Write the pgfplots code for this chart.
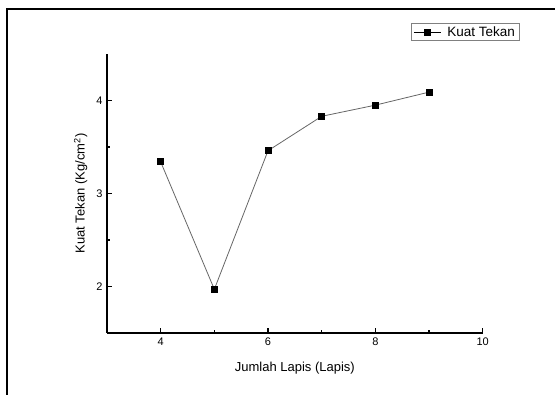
\documentclass[border=0pt]{standalone}
\usepackage{fontspec}
\setmainfont{Liberation Sans}
\usepackage{pgfplots}
\pgfplotsset{compat=1.18}
\begin{document}
\begin{tikzpicture}[x=1pt,y=1pt]
\useasboundingbox (0,0) rectangle (555,395);
\draw[line width=2.5pt] (7,0) -- (7,386) -- (555,386);
\begin{axis}[
  at={(107pt,62pt)}, anchor=south west,
  scale only axis, width=375.7pt, height=279pt,
  xmin=3, xmax=10, ymin=1.5, ymax=4.5,
  axis x line*=bottom, axis y line*=left,
  axis line style={line width=1.2pt, -},
  xtick={4,6,8,10}, minor xtick={5,7,9},
  ytick={2,3,4}, minor ytick={2.5,3.5},
  tick align=inside,
  major tick length=5pt, minor tick length=3pt,
  every tick/.style={black, line width=1.2pt},
  tick label style={font=\fontsize{11}{13}\selectfont},
  /pgf/number format/assume math mode=true,
  xticklabel style={yshift=-1pt},
  yticklabel style={xshift=-1pt},
  xlabel={Jumlah Lapis (Lapis)},
  ylabel={Kuat Tekan (Kg/cm\textsuperscript{2})},
  label style={font=\fontsize{13}{15}\selectfont},
  xlabel style={at={(axis description cs:0.5,-0.09)}, anchor=north},
  ylabel style={at={(axis description cs:-0.043,0.5)}, anchor=south, rotate=0},
  legend style={at={(1.097,1.111)}, anchor=north east, draw=gray, line width=0.6pt,
    font=\fontsize{13.5}{15}\selectfont, inner xsep=2pt, inner ysep=1pt,
    legend cell align=left,
    /tikz/every odd column/.append style={column sep=4pt}},
  legend image code/.code={%
    \draw[#1, black, mark=none] (-14pt,0pt) -- (13pt,0pt);
    \draw[#1, black] plot coordinates {(0pt,0pt)};},
]
\addplot[gray!80!black, line width=0.8pt, mark=square*, mark size=3pt,
  mark options={black, fill=black, solid}]
  coordinates {(4,3.34) (5,1.97) (6,3.46) (7,3.83) (8,3.95) (9,4.09)};
\addlegendentry{Kuat Tekan}
\end{axis}
\end{tikzpicture}
\end{document}
